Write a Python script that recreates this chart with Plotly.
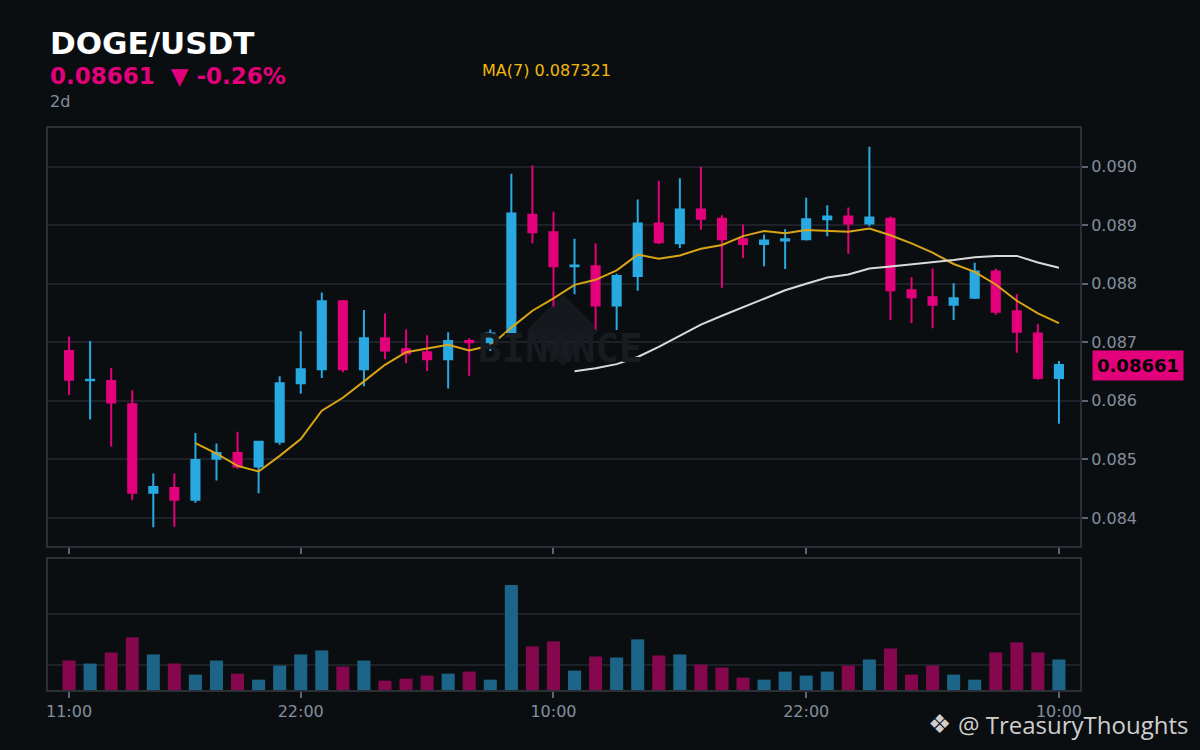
import pandas as pd
import plotly.graph_objects as go

# hourly candles, 11:00 day 1 -> 10:00 day 3
times = pd.date_range("2023-07-24 11:00", periods=48, freq="h")

opens = [0.08685, 0.08635, 0.08634, 0.08594, 0.08443, 0.08451, 0.08431, 0.08501,
         0.08511, 0.08488, 0.08530, 0.08630, 0.08654, 0.08770, 0.08654, 0.08707,
         0.08688, 0.08683, 0.08671, 0.08702, 0.08700, 0.08715, 0.08918, 0.08888,
         0.08830, 0.08830, 0.08763, 0.08813, 0.08903, 0.08869, 0.08927, 0.08911,
         0.08876, 0.08868, 0.08874, 0.08876, 0.08910, 0.08915, 0.08903, 0.08911,
         0.08789, 0.08777, 0.08764, 0.08776, 0.08821, 0.08753, 0.08715, 0.08639]
highs = [0.08710, 0.08702, 0.08656, 0.08618, 0.08476, 0.08476, 0.08545, 0.08527,
         0.08547, 0.08531, 0.08642, 0.08719, 0.08785, 0.08772, 0.08755, 0.08749,
         0.08722, 0.08712, 0.08717, 0.08707, 0.08722, 0.08988, 0.09002, 0.08923,
         0.08877, 0.08869, 0.08817, 0.08944, 0.08976, 0.08980, 0.09000, 0.08917,
         0.08901, 0.08884, 0.08893, 0.08947, 0.08934, 0.08930, 0.09034, 0.08915,
         0.08811, 0.08826, 0.08801, 0.08836, 0.08826, 0.08782, 0.08731, 0.08668]
lows = [0.08610, 0.08568, 0.08522, 0.08430, 0.08384, 0.08385, 0.08426, 0.08464,
        0.08484, 0.08442, 0.08525, 0.08612, 0.08639, 0.08649, 0.08625, 0.08671,
        0.08664, 0.08651, 0.08621, 0.08643, 0.08685, 0.08710, 0.08869, 0.08761,
        0.08782, 0.08722, 0.08721, 0.08788, 0.08868, 0.08861, 0.08892, 0.08793,
        0.08844, 0.08830, 0.08825, 0.08874, 0.08881, 0.08851, 0.08898, 0.08738,
        0.08733, 0.08724, 0.08738, 0.08774, 0.08747, 0.08682, 0.08636, 0.08561]
closes = [0.08636, 0.08636, 0.08597, 0.08443, 0.08453, 0.08431, 0.08499, 0.08511,
          0.08488, 0.08530, 0.08630, 0.08654, 0.08770, 0.08654, 0.08707, 0.08686,
          0.08681, 0.08671, 0.08702, 0.08700, 0.08715, 0.08920, 0.08888, 0.08830,
          0.08831, 0.08763, 0.08813, 0.08903, 0.08871, 0.08927, 0.08911, 0.08876,
          0.08868, 0.08874, 0.08876, 0.08910, 0.08915, 0.08903, 0.08913, 0.08789,
          0.08777, 0.08764, 0.08775, 0.08821, 0.08752, 0.08718, 0.08639, 0.08661]
# volume, millions of DOGE
volumes = [11.7, 10.5, 14.9, 20.9, 14.1, 10.5, 6.1, 11.7, 6.5, 4.1, 9.7, 14.1,
           15.7, 9.3, 11.7, 3.7, 4.5, 5.7, 6.5, 7.3, 4.1, 41.7, 17.3, 19.3,
           7.7, 13.3, 12.9, 20.1, 13.7, 14.1, 10.1, 8.9, 4.9, 4.1, 7.3, 5.7,
           7.3, 9.7, 12.1, 16.5, 6.1, 9.7, 6.1, 4.1, 14.9, 18.9, 14.9, 12.1]

tick_idx = [0, 11, 23, 35, 47]
tick_text = ["11:00", "22:00", "10:00", "22:00", "10:00"]

UP = "#29a9e1"
DOWN = "#e3007b"
UP_VOL = "#1c6588"
DOWN_VOL = "#85074d"
BG = "#0b0e11"
GRID = "#1e2228"
FRAME = "#2b2f36"
MUTED = "#848e9c"

df = pd.DataFrame({"t": times, "o": opens, "h": highs, "l": lows, "c": closes, "v": volumes})
df["ma7"] = df["c"].rolling(7).mean()
df["ma25"] = df["c"].rolling(25).mean()
vol_colors = [UP_VOL if c >= o else DOWN_VOL for o, c in zip(opens, closes)]

fig = go.Figure()
fig.add_trace(go.Candlestick(
    x=df["t"], open=df["o"], high=df["h"], low=df["l"], close=df["c"],
    increasing=dict(line=dict(color=UP, width=2), fillcolor=UP),
    decreasing=dict(line=dict(color=DOWN, width=2), fillcolor=DOWN),
    xaxis="x", yaxis="y", showlegend=False,
))
fig.add_trace(go.Scatter(x=df["t"], y=df["ma7"], mode="lines",
                         line=dict(color="#d9a514", width=2),
                         xaxis="x", yaxis="y", showlegend=False))
fig.add_trace(go.Scatter(x=df["t"], y=df["ma25"], mode="lines",
                         line=dict(color="#dadada", width=2),
                         xaxis="x", yaxis="y", showlegend=False))
fig.add_trace(go.Bar(x=df["t"], y=df["v"], marker=dict(color=vol_colors, line=dict(width=0)),
                     xaxis="x2", yaxis="y2", showlegend=False))

xr = [times[0] - pd.Timedelta(hours=1), times[-1] + pd.Timedelta(hours=1)]
tickvals = [times[i] for i in tick_idx]
axis_common = dict(showline=True, linecolor=FRAME, linewidth=2, mirror=True,
                   ticks="outside", ticklen=6, tickwidth=2, tickcolor="#5e6673",
                   zeroline=False)

fig.update_layout(
    width=1200, height=750,
    paper_bgcolor=BG, plot_bgcolor=BG,
    font=dict(family="DejaVu Sans", color=MUTED, size=16),
    margin=dict(l=48, r=120, t=128, b=60),
    boxgap=0.45, bargap=0.38,
    xaxis=dict(domain=[0, 1], range=xr, anchor="y", tickvals=tickvals,
               showticklabels=False, showgrid=False, rangeslider=dict(visible=False),
               **axis_common),
    yaxis=dict(domain=[0.2562, 1], side="right", range=[0.08352, 0.09066],
               tick0=0.084, dtick=0.001, tickformat=".3f", gridcolor=GRID, gridwidth=2,
               **axis_common),
    xaxis2=dict(domain=[0, 1], range=xr, anchor="y2", matches="x", tickvals=tickvals,
                ticktext=tick_text, showgrid=False, **axis_common),
    yaxis2=dict(domain=[0, 0.2331], side="right", range=[0, 52], tickvals=[10, 30],
                showticklabels=False, gridcolor=GRID, gridwidth=2, anchor="x2",
                **axis_common),
    hovermode=False,
)
fig.update_layout(yaxis2_ticks="")

# faint exchange watermark behind the candles
fig.add_shape(type="path", xref="paper", yref="paper", layer="below",
              path="M 0.4990,0.7047 L 0.5339,0.6406 L 0.4990,0.5765 L 0.4641,0.6406 Z",
              fillcolor="#15181c", line=dict(width=0))
fig.add_annotation(text="<b>BINANCE</b>", xref="paper", yref="paper", x=0.496, y=0.6085,
                   showarrow=False, font=dict(family="DejaVu Sans Mono", size=39, color="#181b20"))

# header
fig.add_annotation(text="<b>DOGE/USDT</b>", xref="paper", yref="paper", x=0, y=1.1512,
                   xanchor="left", yanchor="middle", showarrow=False,
                   font=dict(size=31, color="#ffffff"))
fig.add_annotation(text="<b>0.08661  ▼ -0.26%</b>", xref="paper", yref="paper", x=0, y=1.0925,
                   xanchor="left", yanchor="middle", showarrow=False,
                   font=dict(size=23, color=DOWN))
fig.add_annotation(text="2d", xref="paper", yref="paper", x=0, y=1.0463,
                   xanchor="left", yanchor="middle", showarrow=False,
                   font=dict(size=16, color=MUTED))
fig.add_annotation(text="MA(7) 0.087321", xref="paper", yref="paper", x=0.4186, y=1.1032,
                   xanchor="left", yanchor="middle", showarrow=False,
                   font=dict(size=16, color="#f0b90b"))

# last price tag on the price axis
fig.add_annotation(text="<b>0.08661</b>", xref="paper", yref="y", x=1.0116, y=closes[-1],
                   xanchor="left", yanchor="middle", showarrow=False,
                   bgcolor=DOWN, borderpad=4, font=dict(size=18, color="#000000"))

# credit
fig.add_annotation(text="❖", xref="paper", yref="paper", x=0.8643, y=-0.0605,
                   xanchor="center", yanchor="middle", showarrow=False,
                   font=dict(size=26, color="#cfcfcf"))
fig.add_annotation(text="@ TreasuryThoughts", xref="paper", yref="paper", x=1.1066, y=-0.0605,
                   xanchor="right", yanchor="middle", showarrow=False,
                   font=dict(family="Open Sans", size=24, color="#cfcfcf"))

fig.write_html("out.html", config={"displayModeBar": False},
               post_script="document.body.style.margin='0';")
